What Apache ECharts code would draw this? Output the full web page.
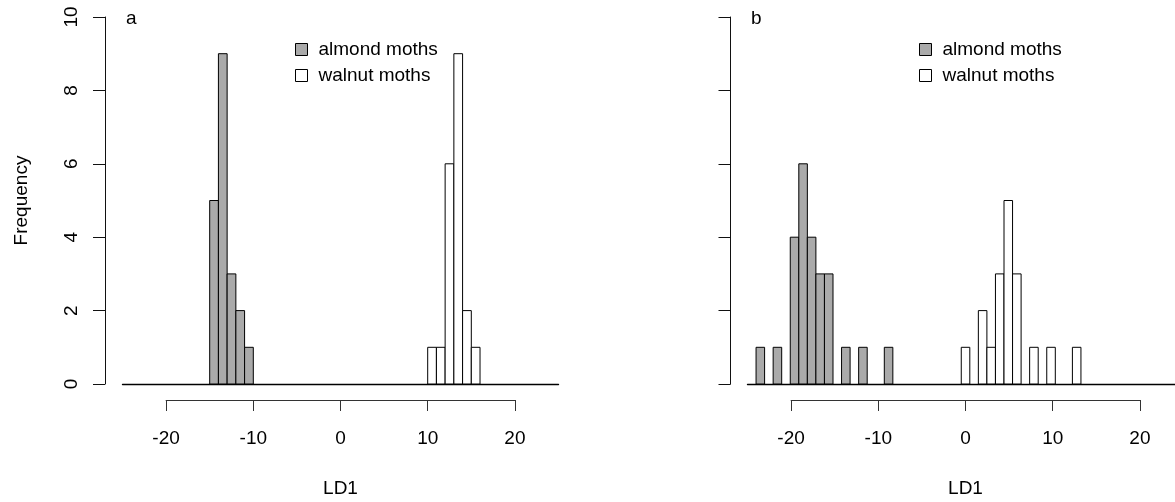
<!DOCTYPE html>
<html>
<head>
<meta charset="utf-8">
<title>LD1 histograms</title>
<script src="https://cdn.jsdelivr.net/npm/echarts@6.0.0/dist/echarts.min.js"></script>
<style>
    html, body { margin: 0; padding: 0; background: #fff; }
    #chart1 { width: 1175px; height: 502px; }
</style>
</head>
<body>
<div id="chart1"></div>
<script>
// bin width is 1 LD unit, bins given by their left edge
var binWidth = 1;
var almondA_bins = [-15, -14, -13, -12, -11];
var almondA_counts = [5, 9, 3, 2, 1];
var walnutA_bins = [10, 11, 12, 13, 14, 15];
var walnutA_counts = [1, 1, 6, 9, 2, 1];
var almondB_bins = [-24, -22, -20, -19, -18, -17, -16, -14, -12, -9];
var almondB_counts = [1, 1, 4, 6, 4, 3, 3, 1, 1, 1];
var walnutB_bins = [0, 2, 3, 4, 5, 6, 8, 10, 13];
var walnutB_counts = [1, 2, 1, 3, 5, 3, 1, 1, 1];
var xTicks = [-20, -10, 0, 10, 20];
var yTicks = [0, 2, 4, 6, 8, 10];

var FONT = '"Liberation Sans", Arial, sans-serif';
var almondColor = '#aaaaaa';
var walnutColor = '#ffffff';

var toData = function (bins, counts) {
    var out = [];
    for (var i = 0; i < bins.length; i++) {
        out.push([bins[i], bins[i] + binWidth, counts[i]]);
    }
    return out;
};

var renderBar = function (params, api) {
    var p0 = api.coord([api.value(0), 0]);
    var p1 = api.coord([api.value(1), api.value(2)]);
    return {
        type: 'rect',
        shape: { x: p0[0], y: p1[1], width: p1[0] - p0[0], height: p0[1] - p1[1] },
        style: { fill: api.visual('color'), stroke: '#000', lineWidth: 1 }
    };
};

var histSeries = function (name, idx, bins, counts, color) {
    return {
        type: 'custom',
        name: name,
        xAxisIndex: idx,
        yAxisIndex: idx,
        itemStyle: { color: color, borderColor: '#000', borderWidth: 1 },
        renderItem: renderBar,
        encode: { x: [0, 1], y: 2 },
        data: toData(bins, counts),
        silent: true
    };
};

var legendFor = function (left) {
    return {
        left: left,
        top: 35,
        orient: 'vertical',
        icon: 'rect',
        itemWidth: 12,
        itemHeight: 12,
        itemGap: 7,
        selectedMode: false,
        textStyle: { fontFamily: FONT, fontSize: 19, color: '#000', padding: [0, 0, 0, 6], lineHeight: 19 },
        data: [
            { name: 'almond moths', itemStyle: { color: almondColor, borderColor: '#000', borderWidth: 1 } },
            { name: 'walnut moths', itemStyle: { color: walnutColor, borderColor: '#000', borderWidth: 1 } }
        ]
    };
};

var plotLeft = [122.5, 747.5];
var plotWidth = 436;
var unit = plotWidth / 50;

var grids = [], xAxes = [], yAxes = [];
for (var g = 0; g < 2; g++) {
    // data area, x from -25 to 25; its axis line is the baseline at 0
    grids.push({ left: plotLeft[g], top: 17, width: plotWidth, height: 367 });
    xAxes.push({
        type: 'value', gridIndex: g, min: -25, max: 25,
        axisLine: { show: true, onZero: false, lineStyle: { color: '#000', width: 1.4 } },
        axisTick: { show: false }, axisLabel: { show: false }, splitLine: { show: false }
    });
    yAxes.push({
        type: 'value', gridIndex: g, min: yTicks[0], max: yTicks[yTicks.length - 1], interval: 2,
        offset: g === 0 ? 17.5 : 17,
        axisLine: { show: true, onZero: false, lineStyle: { color: '#111', width: 1 } },
        axisTick: { show: true, length: 12, lineStyle: { color: '#111', width: 1 } },
        axisLabel: {
            show: g === 0, rotate: 90, margin: 24,
            fontFamily: FONT, fontSize: 19, color: '#000'
        },
        splitLine: { show: false },
        name: g === 0 ? 'Frequency' : '',
        nameLocation: 'middle',
        nameGap: 74,
        nameRotate: 90,
        nameTextStyle: { fontFamily: FONT, fontSize: 19, color: '#000' }
    });
}
// R style x axes, only spanning -20..20
for (var h = 0; h < 2; h++) {
    grids.push({
        left: plotLeft[h] + 5 * unit, top: 390, width: 40 * unit, height: 10
    });
    xAxes.push({
        type: 'value', gridIndex: 2 + h,
        min: xTicks[0], max: xTicks[xTicks.length - 1], interval: 10,
        axisLine: { show: true, onZero: false, lineStyle: { color: '#333', width: 1 } },
        axisTick: { show: true, length: 11, lineStyle: { color: '#333', width: 1 } },
        axisLabel: { margin: 29, fontFamily: FONT, fontSize: 19, color: '#000' },
        splitLine: { show: false },
        name: 'LD1',
        nameLocation: 'middle',
        nameGap: 79,
        nameTextStyle: { fontFamily: FONT, fontSize: 19, color: '#000' }
    });
    yAxes.push({
        type: 'value', gridIndex: 2 + h, show: false, min: 0, max: 1
    });
}

var option = {
    animation: false,
    backgroundColor: '#fff',
    title: [
        { text: 'a', left: 126, top: 9, padding: 0, textStyle: { fontFamily: FONT, fontSize: 19, fontWeight: 'normal', color: '#000' } },
        { text: 'b', left: 751, top: 9, padding: 0, textStyle: { fontFamily: FONT, fontSize: 19, fontWeight: 'normal', color: '#000' } }
    ],
    legend: [legendFor(290), legendFor(914)],
    grid: grids,
    xAxis: xAxes,
    yAxis: yAxes,
    series: [
        histSeries('almond moths', 0, almondA_bins, almondA_counts, almondColor),
        histSeries('walnut moths', 0, walnutA_bins, walnutA_counts, walnutColor),
        histSeries('almond moths', 1, almondB_bins, almondB_counts, almondColor),
        histSeries('walnut moths', 1, walnutB_bins, walnutB_counts, walnutColor)
    ]
};

var myChart = echarts.init(document.getElementById('chart1'));
myChart.setOption(option);
</script>
</body>
</html>
